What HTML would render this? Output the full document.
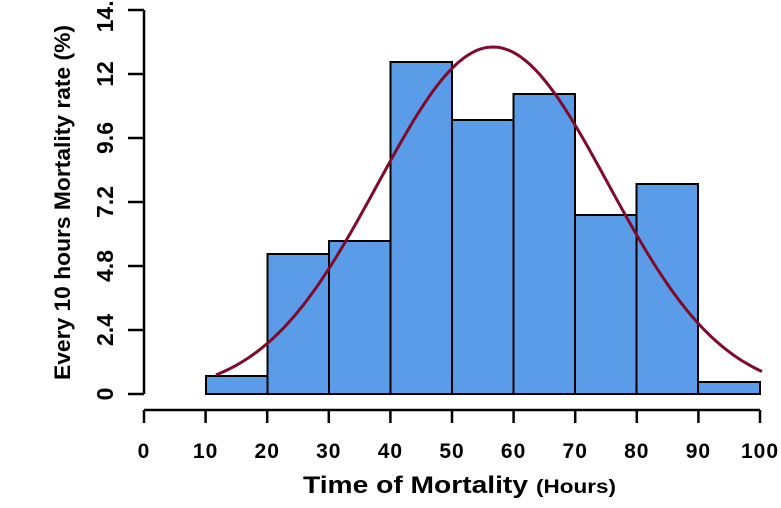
<!DOCTYPE html>
<html><head><style>body{margin:0;background:#fff}svg{display:block}text{font-family:"Liberation Sans",sans-serif;font-weight:bold;fill:#000}</style></head><body>
<svg width="781" height="508" viewBox="0 0 781 508" xmlns="http://www.w3.org/2000/svg">
<g fill="#5b9ce8" stroke="#000" stroke-width="2">
<rect x="206" y="376" width="61.5" height="18"/>
<rect x="267.5" y="254" width="61.5" height="140"/>
<rect x="329" y="241" width="61.5" height="153"/>
<rect x="390.5" y="62" width="61.5" height="332"/>
<rect x="452" y="120" width="61.5" height="274"/>
<rect x="513.5" y="94" width="61.5" height="300"/>
<rect x="575" y="215" width="61.5" height="179"/>
<rect x="636.5" y="184" width="61.5" height="210"/>
<rect x="698" y="382" width="62" height="12"/>
</g>
<path id="c" fill="none" stroke="#7f0a2a" stroke-width="3" d=""/>
<script>
var d="";for(var x=216;x<=762;x+=3){var y=394-347*Math.exp(-Math.pow(x-493,2)/(2*115*115));d+=(x==216?"M":"L")+x+","+y.toFixed(1);}
document.getElementById("c").setAttribute("d",d);
</script>
<g stroke="#000" stroke-width="2.5" fill="none">
<path d="M144,10V394"/>
<path d="M128,10H144M128,74H144M128,138H144M128,202H144M128,266H144M128,330H144M128,394H144"/>
<path d="M144,410H760"/>
<path d="M144,410V423M205.6,410V423M267.2,410V423M328.8,410V423M390.4,410V423M452,410V423M513.6,410V423M575.2,410V423M636.8,410V423M698.4,410V423M760,410V423"/>
</g>
<g font-size="23" text-anchor="middle">
<text transform="translate(113,394) rotate(-90)">0</text>
<text transform="translate(113,330) rotate(-90)">2.4</text>
<text transform="translate(113,266) rotate(-90)">4.8</text>
<text transform="translate(113,202) rotate(-90)">7.2</text>
<text transform="translate(113,138) rotate(-90)">9.6</text>
<text transform="translate(113,74) rotate(-90)">12</text>
<text transform="translate(113,10) rotate(-90)">14.4</text>
</g>
<g font-size="21" text-anchor="middle" letter-spacing="1">
<text x="144" y="458">0</text><text x="205.6" y="458">10</text><text x="267.2" y="458">20</text><text x="328.8" y="458">30</text><text x="390.4" y="458">40</text><text x="452" y="458">50</text><text x="513.6" y="458">60</text><text x="575.2" y="458">70</text><text x="636.8" y="458">80</text><text x="698.4" y="458">90</text><text x="760" y="458">100</text>
</g>
<text transform="translate(70,380) rotate(-90)" font-size="22" textLength="355" lengthAdjust="spacingAndGlyphs">Every 10 hours Mortality rate (%)</text>
<text x="303" y="493" font-size="24" textLength="225" lengthAdjust="spacingAndGlyphs">Time of Mortality</text>
<text x="536" y="493" font-size="19" textLength="80" lengthAdjust="spacingAndGlyphs">(Hours)</text>
</svg>
</body></html>
